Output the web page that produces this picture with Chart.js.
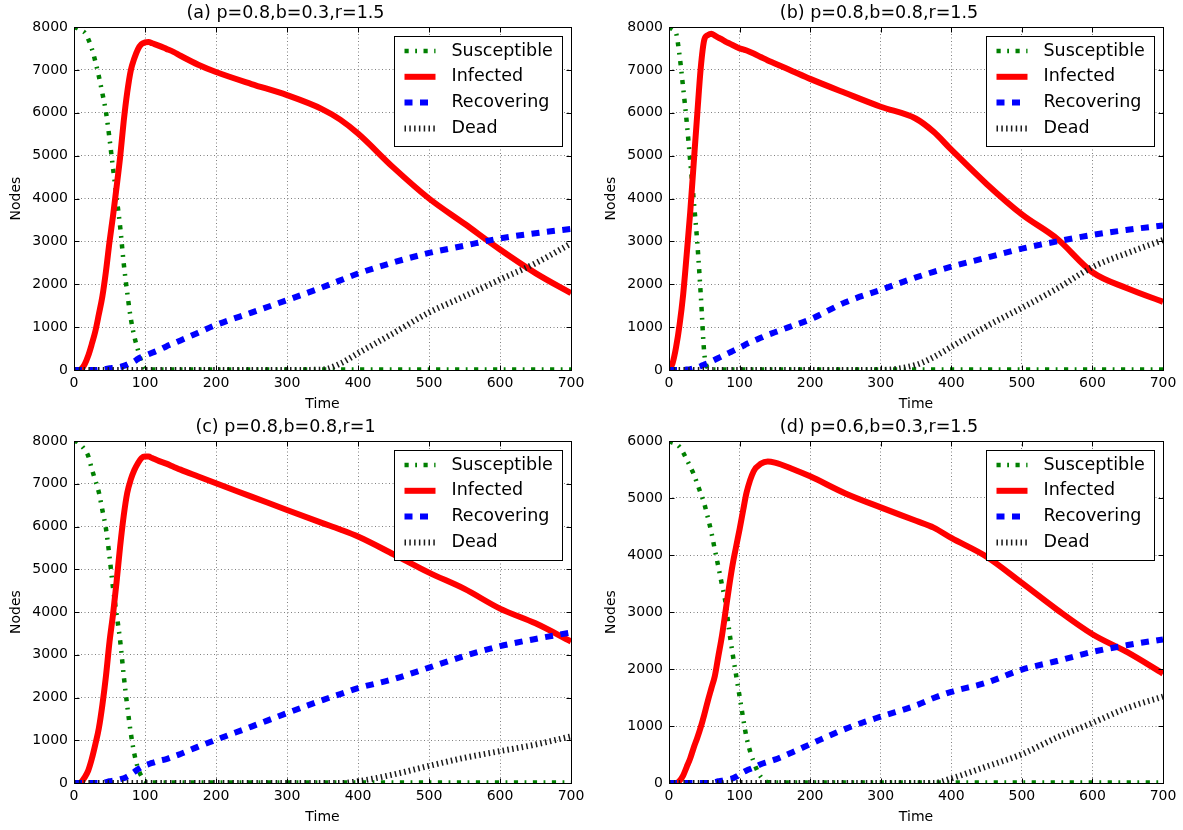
<!DOCTYPE html>
<html>
<head>
<meta charset="utf-8">
<title>SIRD simulations</title>
<script src="https://cdn.jsdelivr.net/npm/chart.js@4.4.1/dist/chart.umd.min.js"></script>
<style>
  html, body { margin: 0; padding: 0; background: #fff; }
  body { width: 1183px; height: 830px; position: relative; overflow: hidden; }
  .panel { position: absolute; }
  #pa { left: 0;     top: 0;   width: 590px; height: 415px; }
  #pb { left: 595px; top: 0;   width: 588px; height: 415px; }
  #pc { left: 0;     top: 414px; width: 590px; height: 414px; }
  #pd { left: 595px; top: 414px; width: 588px; height: 414px; }
</style>
</head>
<body>
<div class="panel" id="pa"><canvas id="chartA"></canvas></div>
<div class="panel" id="pb"><canvas id="chartB"></canvas></div>
<div class="panel" id="pc"><canvas id="chartC"></canvas></div>
<div class="panel" id="pd"><canvas id="chartD"></canvas></div>
<script>
// shared time grid (x axis)
const timeSteps = [0, 5, 10, 15, 20, 25, 30, 35, 40, 45, 50, 55, 60, 65, 70, 75, 80, 85, 90, 95,
                   100, 105, 110, 120, 130, 140, 150, 175, 200, 250, 300, 350, 375, 400, 450, 500, 550, 600, 650, 700];
const xTicks = [0, 100, 200, 300, 400, 500, 600, 700];
const seriesNames = ['Susceptible', 'Infected', 'Recovering', 'Dead'];

// (a) p=0.8,b=0.3,r=1.5
const susceptibleA = [8000, 7970, 7920, 7870, 7720, 7500, 7200, 6850, 6450, 6020, 5400, 4700, 4030, 3340, 2490, 1800, 1200, 780, 470, 190,
                      40, 20, 10, 10, 10, 10, 10, 10, 10, 10, 10, 10, 10, 10, 10, 10, 10, 10, 10, 10];
const infectedA = [0, 0, 20, 130, 330, 600, 900, 1300, 1720, 2300, 2990, 3600, 4270, 4970, 5800, 6480, 6990, 7270, 7480, 7600,
                   7640, 7650, 7620, 7560, 7490, 7420, 7330, 7120, 6950, 6670, 6410, 6080, 5840, 5515, 4720, 4000, 3410, 2810, 2260, 1790];
const recoveringA = [0, 0, 0, 0, 0, 0, 0, 5, 10, 25, 40, 50, 60, 70, 95, 130, 170, 200, 260, 300,
                     330, 365, 400, 470, 550, 620, 690, 870, 1050, 1340, 1630, 1930, 2090, 2250, 2510, 2730, 2900, 3070, 3190, 3290];
const deadA = [0, 0, 0, 0, 0, 0, 0, 0, 0, 0, 0, 0, 0, 0, 0, 0, 0, 0, 0, 0,
               0, 0, 0, 0, 0, 0, 0, 0, 0, 0, 0, 10, 150, 390, 860, 1340, 1720, 2110, 2490, 2950];

// (b) p=0.8,b=0.8,r=1.5
const susceptibleB = [8000, 7950, 7860, 7330, 6590, 5800, 4890, 3960, 2990, 1760, 390, 50, 20, 10, 10, 10, 10, 10, 10, 10,
                      10, 10, 10, 10, 10, 10, 10, 10, 10, 10, 10, 10, 10, 10, 10, 10, 10, 10, 10, 10];
const infectedB = [0, 155, 530, 1060, 1750, 2680, 3670, 4820, 5960, 7050, 7700, 7810, 7845, 7800, 7750, 7710, 7660, 7620, 7580, 7540,
                   7500, 7480, 7450, 7380, 7300, 7220, 7150, 6970, 6790, 6460, 6140, 5860, 5555, 5140, 4340, 3630, 3060, 2280, 1900, 1590];
const recoveringB = [0, 0, 0, 0, 0, 10, 20, 40, 60, 90, 130, 160, 200, 240, 280, 320, 360, 400, 440, 480,
                     520, 560, 610, 680, 750, 820, 880, 1030, 1180, 1580, 1870, 2160, 2290, 2410, 2620, 2830, 3000, 3150, 3270, 3370];
const deadB = [0, 0, 0, 0, 0, 0, 0, 0, 0, 0, 0, 0, 0, 0, 0, 0, 0, 0, 0, 0,
               0, 0, 0, 0, 0, 0, 0, 0, 0, 0, 0, 120, 300, 540, 1020, 1450, 1900, 2400, 2730, 3030];

// (c) p=0.8,b=0.8,r=1
const susceptibleC = [8000, 7980, 7900, 7800, 7650, 7350, 7080, 6800, 6380, 5950, 5300, 4560, 3950, 3330, 2520, 1800, 1170, 680, 350, 160,
                      50, 20, 10, 10, 10, 10, 10, 10, 10, 10, 10, 10, 10, 10, 10, 10, 10, 10, 10, 10];
const infectedC = [0, 0, 20, 130, 290, 560, 900, 1280, 1830, 2500, 3300, 3950, 4710, 5540, 6250, 6790, 7100, 7320, 7480, 7600,
                   7635, 7635, 7600, 7530, 7470, 7400, 7330, 7170, 7010, 6700, 6385, 6080, 5930, 5765, 5350, 4920, 4540, 4080, 3735, 3310];
const recoveringC = [0, 0, 0, 0, 0, 0, 0, 0, 0, 20, 40, 55, 70, 90, 110, 150, 200, 260, 320, 370,
                     410, 440, 470, 520, 560, 620, 680, 850, 1010, 1320, 1635, 1940, 2080, 2220, 2430, 2700, 2970, 3200, 3370, 3520];
const deadC = [0, 0, 0, 0, 0, 0, 0, 0, 0, 0, 0, 0, 0, 0, 0, 0, 0, 0, 0, 0,
               0, 0, 0, 0, 0, 0, 0, 0, 0, 0, 0, 0, 0, 40, 200, 400, 590, 745, 900, 1090];

// (d) p=0.6,b=0.3,r=1.5
const susceptibleD = [6000, 5970, 5950, 5895, 5800, 5680, 5550, 5420, 5250, 5080, 4900, 4660, 4400, 4090, 3790, 3480, 3175, 2700, 2280, 1900,
                      1520, 1140, 790, 370, 110, 15, 10, 10, 10, 10, 10, 10, 10, 10, 10, 10, 10, 10, 10, 10];
const infectedD = [0, 0, 0, 40, 130, 280, 430, 620, 790, 980, 1200, 1440, 1660, 1880, 2230, 2580, 3000, 3430, 3820, 4140,
                   4450, 4780, 5100, 5470, 5600, 5640, 5620, 5510, 5380, 5080, 4835, 4600, 4480, 4300, 3970, 3510, 3040, 2610, 2290, 1920];
const recoveringD = [0, 0, 0, 0, 0, 0, 0, 0, 0, 0, 0, 0, 0, 15, 30, 40, 55, 65, 80, 110,
                     150, 190, 220, 270, 330, 370, 410, 540, 680, 950, 1165, 1360, 1490, 1600, 1760, 1990, 2140, 2300, 2420, 2520];
const deadD = [0, 0, 0, 0, 0, 0, 0, 0, 0, 0, 0, 0, 0, 0, 0, 0, 0, 0, 0, 0,
               0, 0, 0, 0, 0, 0, 0, 0, 0, 0, 0, 0, 0, 80, 290, 505, 800, 1055, 1320, 1515];

const FONT = '"DejaVu Sans", "Liberation Sans", sans-serif';

// matplotlib-ish line styles, in legend order
const lineStyles = [
    { color: '#008000', width: 4.5, dash: [4.2, 6.5, 1.8, 6.5] }, // dash-dot
    { color: '#ff0000', width: 6,   dash: [] },                  // solid
    { color: '#0000ff', width: 6,   dash: [8, 7.5] },            // dashed
    { color: '#1a1a1a', width: 6,   dash: [1.5, 3.3] }           // dotted
];

// inward ticks, black frame and an in-axes legend box
const axesDecor = {
    id: 'axesDecor',
    afterDatasetsDraw(chart) {
        const { ctx, chartArea: a, scales } = chart;
        const L = Math.round(a.left) + 0.5, R = Math.round(a.right) + 0.5;
        const T = Math.round(a.top) + 0.5, B = Math.round(a.bottom) + 0.5;
        ctx.save();
        ctx.setLineDash([]);
        ctx.strokeStyle = '#000';
        ctx.lineWidth = 1;
        ctx.beginPath();
        scales.x.ticks.forEach(t => {
            const px = Math.round(scales.x.getPixelForValue(t.value)) + 0.5;
            ctx.moveTo(px, B); ctx.lineTo(px, B - 5);
            ctx.moveTo(px, T); ctx.lineTo(px, T + 5);
        });
        scales.y.ticks.forEach(t => {
            const py = Math.round(scales.y.getPixelForValue(t.value)) + 0.5;
            ctx.moveTo(L, py); ctx.lineTo(L + 5, py);
            ctx.moveTo(R, py); ctx.lineTo(R - 5, py);
        });
        ctx.stroke();
        ctx.strokeRect(L, T, R - L, B - T);

        // legend
        const sets = chart.data.datasets;
        ctx.font = '17.5px ' + FONT;
        const textW = Math.max(...sets.map(d => ctx.measureText(d.label).width));
        const boxW = Math.round(57 + textW + 10), boxH = 110;
        const bx = R - 9 - boxW, by = T + 9;
        ctx.fillStyle = '#fff';
        ctx.fillRect(bx, by, boxW, boxH);
        ctx.strokeRect(bx, by, boxW, boxH);
        sets.forEach((d, k) => {
            const cy = by + 14.5 + k * 25.8;
            ctx.save();
            ctx.setLineDash(d.borderDash || []);
            ctx.lineWidth = d.borderWidth;
            ctx.strokeStyle = d.borderColor;
            ctx.lineCap = 'butt';
            ctx.beginPath();
            ctx.moveTo(bx + 10, cy);
            ctx.lineTo(bx + 41, cy);
            ctx.stroke();
            ctx.restore();
            ctx.fillStyle = '#000';
            ctx.textAlign = 'left';
            ctx.textBaseline = 'middle';
            ctx.fillText(d.label, bx + 57, cy);
        });
        ctx.restore();
    }
};

function makePanel(canvasId, title, yMax, seriesList, padRight) {
    const canvas = document.getElementById(canvasId);
    const datasets = seriesList.map((vals, k) => ({
        label: seriesNames[k],
        data: timeSteps.map((t, i) => ({ x: t, y: vals[i] })),
        borderColor: lineStyles[k].color,
        backgroundColor: lineStyles[k].color,
        borderWidth: lineStyles[k].width,
        borderDash: lineStyles[k].dash,
        borderJoinStyle: 'round',
        pointRadius: 0,
        cubicInterpolationMode: 'monotone',
        fill: false,
        clip: 0,
        order: 4 - k
    }));

    return new Chart(canvas.getContext('2d'), {
        type: 'line',
        data: { datasets },
        options: {
            responsive: true,
            maintainAspectRatio: false,
            animation: false,
            layout: { padding: { left: 0, right: padRight, top: 0, bottom: 0 } },
            plugins: {
                legend: { display: false },
                tooltip: { enabled: false },
                title: {
                    display: true,
                    text: title,
                    color: '#000',
                    font: { family: FONT, size: 17.5, weight: 'normal' },
                    padding: { top: 3, bottom: 3 }
                }
            },
            scales: {
                x: {
                    type: 'linear',
                    min: 0,
                    max: 700,
                    afterBuildTicks: s => { s.ticks = xTicks.map(v => ({ value: v })); },
                    afterFit: s => { s.height = 45; },
                    grid: { color: '#808080', lineWidth: 1, drawTicks: false },
                    border: { display: false, dash: [1, 2.5] },
                    ticks: {
                        color: '#000',
                        padding: 5,
                        maxRotation: 0,
                        font: { family: FONT, size: 14 },
                        callback: v => String(v)
                    },
                    title: {
                        display: true,
                        text: 'Time',
                        color: '#000',
                        font: { family: FONT, size: 14 },
                        padding: { top: 0, bottom: 2 }
                    }
                },
                y: {
                    min: 0,
                    max: yMax,
                    afterFit: s => { s.width = 74; },
                    grid: { color: '#808080', lineWidth: 1, drawTicks: false },
                    border: { display: false, dash: [1, 2.5] },
                    ticks: {
                        stepSize: 1000,
                        color: '#000',
                        padding: 6,
                        font: { family: FONT, size: 14 },
                        callback: v => String(v)
                    },
                    title: {
                        display: true,
                        text: 'Nodes',
                        color: '#000',
                        font: { family: FONT, size: 14 },
                        padding: { top: 8, bottom: 0 }
                    }
                }
            }
        },
        plugins: [axesDecor]
    });
}

makePanel('chartA', '(a) p=0.8,b=0.3,r=1.5', 8000, [susceptibleA, infectedA, recoveringA, deadA], 19);
makePanel('chartB', '(b) p=0.8,b=0.8,r=1.5', 8000, [susceptibleB, infectedB, recoveringB, deadB], 20);
makePanel('chartC', '(c) p=0.8,b=0.8,r=1', 8000, [susceptibleC, infectedC, recoveringC, deadC], 19);
makePanel('chartD', '(d) p=0.6,b=0.3,r=1.5', 6000, [susceptibleD, infectedD, recoveringD, deadD], 20);
</script>
</body>
</html>
